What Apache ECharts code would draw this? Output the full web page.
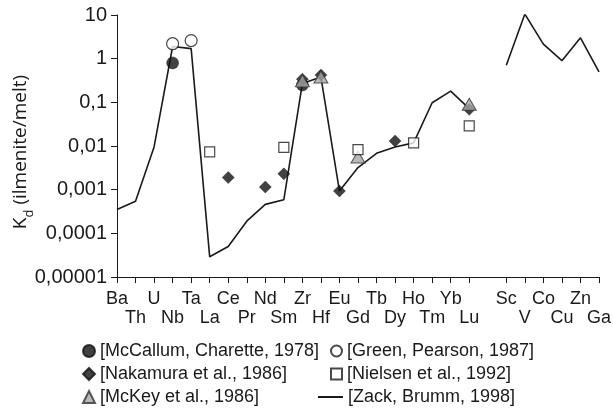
<!DOCTYPE html>
<html>
<head>
<meta charset="utf-8">
<script src="https://cdn.jsdelivr.net/npm/echarts@6/dist/echarts.min.js"></script>
<style>
  html, body { margin: 0; padding: 0; background: #fff; }
  #chart { width: 613px; height: 409px; }
</style>
</head>
<body>
<div id="chart"></div>
<script>
// Elements along the x axis; the empty slot separates the trace elements from Sc–Ga
const categories = ['Ba','Th','U','Nb','Ta','La','Ce','Pr','Nd','Sm','Zr','Hf','Eu','Gd','Tb','Dy','Ho','Tm','Yb','Lu','','Sc','V','Co','Cu','Zn','Ga'];
// Labels printed on the second (lower) row
const lowerRow = ['Th','Nb','La','Pr','Sm','Hf','Gd','Dy','Tm','Lu','V','Cu','Ga'];
const yTickLabels = ['0,00001','0,0001','0,001','0,01','0,1','1','10'];

// Partition coefficients Kd (ilmenite/melt)
const mcCallum = [['Nb', 0.8], ['Zr', 0.25]];
const greenPearson = [['Nb', 2.2], ['Ta', 2.6]];
const nakamura = [['Ce', 0.0019], ['Nd', 0.00115], ['Sm', 0.0023], ['Zr', 0.34], ['Hf', 0.42], ['Eu', 0.00093], ['Dy', 0.013], ['Lu', 0.069]];
const nielsen = [['La', 0.0073], ['Sm', 0.0093], ['Gd', 0.0083], ['Ho', 0.0118], ['Lu', 0.029]];
const mcKey = [['Zr', 0.31], ['Hf', 0.38], ['Gd', 0.0056], ['Lu', 0.09]];
const zackBrumm = [0.00035, 0.00054, 0.0095, 1.9, 1.7, 0.000029, 0.00005, 0.00019, 0.00046, 0.00059,
                   0.27, 0.38, 0.00093, 0.0032, 0.0068, 0.0095, 0.0118, 0.098, 0.18, 0.072,
                   null, 0.71, 10.5, 2.16, 0.9, 3.0, 0.5];

const ink = '#1a1a1a';
const font = 'Liberation Sans, Arial, sans-serif';

const chart = echarts.init(document.getElementById('chart'), null, { renderer: 'canvas' });

const legendText = { fontFamily: font, fontSize: 18, color: ink };
const legendBase = { orient: 'vertical', padding: 0, itemGap: 5, textStyle: legendText, selectedMode: false };

chart.setOption({
  animation: false,
  backgroundColor: '#fff',
  grid: { left: 117, right: 14, top: 15, bottom: 132, containLabel: false, outerBoundsMode: 'none' },
  legend: [
    Object.assign({}, legendBase, {
      left: 82, top: 342, itemWidth: 12, itemHeight: 12,
      data: ['[McCallum, Charette, 1978]', '[Nakamura et al., 1986]', '[McKey et al., 1986]']
    }),
    Object.assign({}, legendBase, {
      left: 330, top: 342, itemWidth: 11, itemHeight: 11,
      data: ['[Green, Pearson, 1987]', '[Nielsen et al., 1992]']
    }),
    Object.assign({}, legendBase, {
      left: 318, top: 388, itemWidth: 25, itemHeight: 2,
      data: [{ name: '[Zack, Brumm, 1998]', icon: 'rect' }]
    })
  ],
  xAxis: {
    type: 'category',
    data: categories,
    boundaryGap: false,
    axisLine: { lineStyle: { color: ink, width: 1 } },
    axisTick: {
      show: true, inside: false, length: 6, lineStyle: { color: ink },
      interval: (i) => categories[i] !== ''
    },
    axisLabel: {
      interval: 0, margin: 13, color: ink, fontFamily: font, fontSize: 18, lineHeight: 19,
      formatter: (v) => lowerRow.includes(v) ? '\n' + v : v
    },
    splitLine: { show: false }
  },
  yAxis: {
    type: 'log',
    logBase: 10,
    min: 0.00001,
    max: 10,
    axisLine: { show: true, lineStyle: { color: ink, width: 1 } },
    axisTick: { show: true, inside: false, length: 6, lineStyle: { color: ink } },
    axisLabel: {
      margin: 10, color: ink, fontFamily: font, fontSize: 20,
      formatter: (v, i) => yTickLabels[i]
    },
    splitLine: { show: false },
    name: '{k|K}{d|d}{k| (ilmenite/melt)}',
    nameLocation: 'middle',
    nameRotate: 90,
    nameGap: 85,
    nameMoveOverlap: false,
    nameTextStyle: {
      padding: [0, 12, 0, 0],
      rich: {
        k: { fontFamily: 'Open Sans, sans-serif', fontSize: 19, color: ink, lineHeight: 23 },
        d: { fontFamily: 'Open Sans, sans-serif', fontSize: 13, color: ink, lineHeight: 23, verticalAlign: 'bottom', padding: [0, 0, -4, 0] }
      }
    }
  },
  series: [
    {
      name: '[Zack, Brumm, 1998]', type: 'line', data: zackBrumm, symbol: 'none',
      lineStyle: { color: ink, width: 1.6 }, itemStyle: { color: ink }, z: 1
    },
    {
      name: '[McCallum, Charette, 1978]', type: 'scatter', data: mcCallum, symbol: 'circle', symbolSize: 12,
      itemStyle: { color: '#111', borderColor: '#111', borderWidth: 0.5 }, z: 2
    },
    {
      name: '[Nakamura et al., 1986]', type: 'scatter', data: nakamura, symbol: 'diamond', symbolSize: 12,
      itemStyle: { color: '#111', borderColor: '#111', borderWidth: 0.5 }, z: 3
    },
    {
      name: '[McKey et al., 1986]', type: 'scatter', data: mcKey, symbol: 'triangle', symbolSize: [14, 12],
      itemStyle: { color: '#a8a8a8', borderColor: '#333', borderWidth: 1 }, z: 4
    },
    {
      name: '[Green, Pearson, 1987]', type: 'scatter', data: greenPearson, symbol: 'circle', symbolSize: 12,
      itemStyle: { color: '#fff', borderColor: ink, borderWidth: 1.2 }, z: 5
    },
    {
      name: '[Nielsen et al., 1992]', type: 'scatter', data: nielsen, symbol: 'rect', symbolSize: 10,
      itemStyle: { color: '#fff', borderColor: ink, borderWidth: 1.2 }, z: 6
    }
  ]
});
</script>
</body>
</html>
